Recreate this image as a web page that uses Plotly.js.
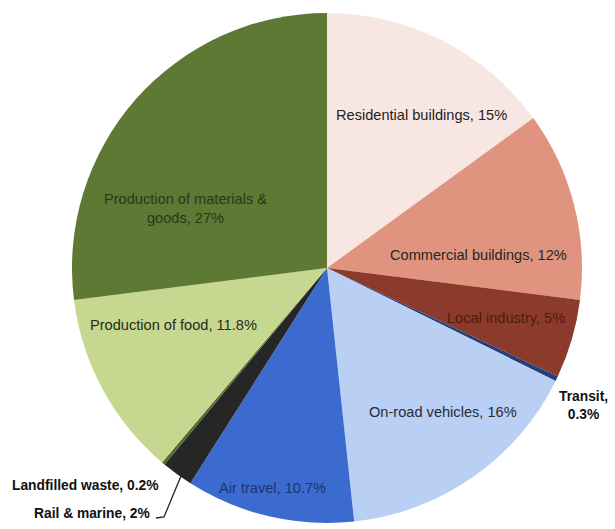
<!DOCTYPE html>
<html>
<head>
<meta charset="utf-8">
<script src="https://cdn.plot.ly/plotly-3.0.1.min.js"></script>
<style>html,body{margin:0;padding:0;background:#fff;}#chart{width:615px;height:529px;}</style>
</head>
<body>
<div id="chart"></div>
<script>
// Data (clockwise from 12 o'clock)
const categories = [
  "Residential buildings",
  "Commercial buildings",
  "Local industry",
  "Transit",
  "On-road vehicles",
  "Air travel",
  "Rail & marine",
  "Landfilled waste",
  "Production of food",
  "Production of materials & goods"
];
const shares = [15, 12, 5, 0.3, 16, 10.7, 2, 0.2, 11.8, 27];
const labelTexts = [
  "Residential buildings, 15%",
  "Commercial buildings, 12%",
  "Local industry, 5%",
  "Transit,<br>0.3%",
  "On-road vehicles, 16%",
  "Air travel, 10.7%",
  "Rail & marine, 2%",
  "Landfilled waste, 0.2%",
  "Production of food, 11.8%",
  "Production of materials &<br>goods, 27%"
];

// Styles
const colors = ["#f8e6e3", "#e0937e", "#8c3a2b", "#23407c", "#b9cff4",
                "#3b6bce", "#262626", "#56682e", "#c6d78f", "#5d7933"];
const textColors = ["#1e1e1e", "#262626", "#4e1c12", "#111111", "#262b36",
                    "#1b3570", "#111111", "#111111", "#262b1a", "#2a3816"];
const bold = [false, false, false, true, false, false, true, true, false, false];
// label centres in pixels
const labelPx = [[421,115],[479,255],[506,318],[583,405],[443,412],
                 [272,488],[92,513],[85,485],[173,325],[185,208]];

const W = 615, H = 529;
const cx = 327, cy = 268, R = 255;

const annotations = labelTexts.map((t, i) => ({
  x: labelPx[i][0] / W, y: 1 - labelPx[i][1] / H,
  xref: "paper", yref: "paper", xanchor: "center", yanchor: "middle",
  text: bold[i] ? "<b>" + t + "</b>" : t,
  showarrow: false,
  font: {family: "Liberation Sans, Arial, sans-serif", size: bold[i] ? 13.8 : 14.6, color: textColors[i]}
}));

const px = (x) => (x / W).toFixed(4);
const py = (y) => (1 - y / H).toFixed(4);

const data = [{
  type: "pie",
  labels: categories,
  values: shares,
  sort: false,
  direction: "clockwise",
  rotation: 0,
  textinfo: "none",
  hoverinfo: "label+percent",
  marker: {colors: colors, line: {width: 0}},
  domain: {x: [(cx - R) / W, (cx + R) / W], y: [1 - (cy + R) / H, 1 - (cy - R) / H]}
}];

const layout = {
  width: W, height: H,
  margin: {l: 0, r: 0, t: 0, b: 0},
  paper_bgcolor: "#ffffff",
  showlegend: false,
  annotations: annotations,
  shapes: [{
    type: "path", xref: "paper", yref: "paper",
    path: "M " + px(156) + " " + py(518) + " L " + px(164) + " " + py(517) + " L " + px(181) + " " + py(476),
    line: {color: "#222222", width: 1.3}
  }]
};

Plotly.newPlot("chart", data, layout, {displayModeBar: false, staticPlot: true});
</script>
</body>
</html>
